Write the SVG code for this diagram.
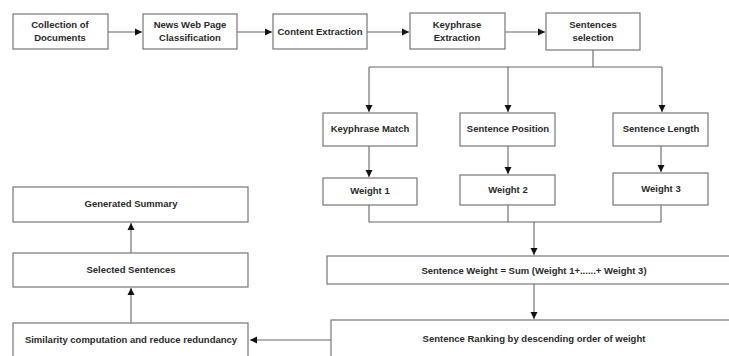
<svg xmlns="http://www.w3.org/2000/svg" width="729" height="356" viewBox="0 0 729 356">
<style>
.box{fill:#fff;stroke:#777;stroke-width:1.2}
.t{font-family:"Liberation Sans",Arial,sans-serif;font-size:9.5px;font-weight:bold;fill:#2a2a2a;text-anchor:middle}
.c{fill:none;stroke:#666;stroke-width:1.1}
</style>
<defs>
<marker id="ah" markerWidth="8" markerHeight="8" refX="7" refY="4" orient="auto" markerUnits="userSpaceOnUse">
<path d="M0,0.5 L7,4 L0,7.5 Z" fill="#111"/>
</marker>
</defs>
<rect width="729" height="356" fill="#fff"/>
<g id="connectors">
<path class="c" d="M108,32 H142" marker-end="url(#ah)"/>
<path class="c" d="M237,32 H272" marker-end="url(#ah)"/>
<path class="c" d="M367,32 H409" marker-end="url(#ah)"/>
<path class="c" d="M505,32 H545" marker-end="url(#ah)"/>
<path class="c" d="M593,50 V67 M369,67 H662"/>
<path class="c" d="M369,67 V112" marker-end="url(#ah)"/>
<path class="c" d="M508,67 V112" marker-end="url(#ah)"/>
<path class="c" d="M662,67 V112" marker-end="url(#ah)"/>
<path class="c" d="M369,146 V177" marker-end="url(#ah)"/>
<path class="c" d="M508,146 V174" marker-end="url(#ah)"/>
<path class="c" d="M661,146 V172" marker-end="url(#ah)"/>
<path class="c" d="M369,205 V222 H661 V205 M508,205 V222"/>
<path class="c" d="M534,222 V255" marker-end="url(#ah)"/>
<path class="c" d="M534,284 V319" marker-end="url(#ah)"/>
<path class="c" d="M331,340 H250" marker-end="url(#ah)"/>
<path class="c" d="M131,323 V288" marker-end="url(#ah)"/>
<path class="c" d="M131,253 V223" marker-end="url(#ah)"/>
</g>
<g id="n1"><rect class="box" x="13" y="14" width="95" height="35"/><text class="t" x="60" y="28">Collection of</text><text class="t" x="60" y="41">Documents</text></g>
<g id="n2"><rect class="box" x="143" y="14" width="94" height="35"/><text class="t" x="190" y="28">News Web Page</text><text class="t" x="190" y="41">Classification</text></g>
<g id="n3"><rect class="box" x="273" y="14" width="94" height="35"/><text class="t" x="320" y="35">Content Extraction</text></g>
<g id="n4"><rect class="box" x="410" y="13" width="95" height="36"/><text class="t" x="457" y="28">Keyphrase</text><text class="t" x="457" y="41">Extraction</text></g>
<g id="n5"><rect class="box" x="546" y="13" width="94" height="37"/><text class="t" x="593" y="28">Sentences</text><text class="t" x="593" y="41">selection</text></g>
<g id="n6"><rect class="box" x="323" y="113" width="94" height="33"/><text class="t" x="370" y="132">Keyphrase Match</text></g>
<g id="n7"><rect class="box" x="460" y="113" width="95" height="33"/><text class="t" x="508" y="132">Sentence Position</text></g>
<g id="n8"><rect class="box" x="613" y="113" width="95" height="33"/><text class="t" x="661" y="132">Sentence Length</text></g>
<g id="n9"><rect class="box" x="323" y="178" width="94" height="27"/><text class="t" x="370" y="194">Weight 1</text></g>
<g id="n10"><rect class="box" x="460" y="175" width="95" height="30"/><text class="t" x="508" y="193">Weight 2</text></g>
<g id="n11"><rect class="box" x="613" y="173" width="95" height="32"/><text class="t" x="661" y="192">Weight 3</text></g>
<g id="n12"><rect class="box" x="327" y="256" width="410" height="28"/><text class="t" x="534" y="274">Sentence Weight = Sum (Weight 1+......+ Weight 3)</text></g>
<g id="n13"><rect class="box" x="331" y="320" width="410" height="50"/><text class="t" x="534" y="342">Sentence Ranking by descending order of weight</text></g>
<g id="n14"><rect class="box" x="13" y="187" width="235" height="35"/><text class="t" x="131" y="207">Generated Summary</text></g>
<g id="n15"><rect class="box" x="13" y="253" width="235" height="34"/><text class="t" x="131" y="273">Selected Sentences</text></g>
<g id="n16"><rect class="box" x="13" y="323" width="235" height="45"/><text class="t" x="131" y="343">Similarity computation and reduce redundancy</text></g>
</svg>
